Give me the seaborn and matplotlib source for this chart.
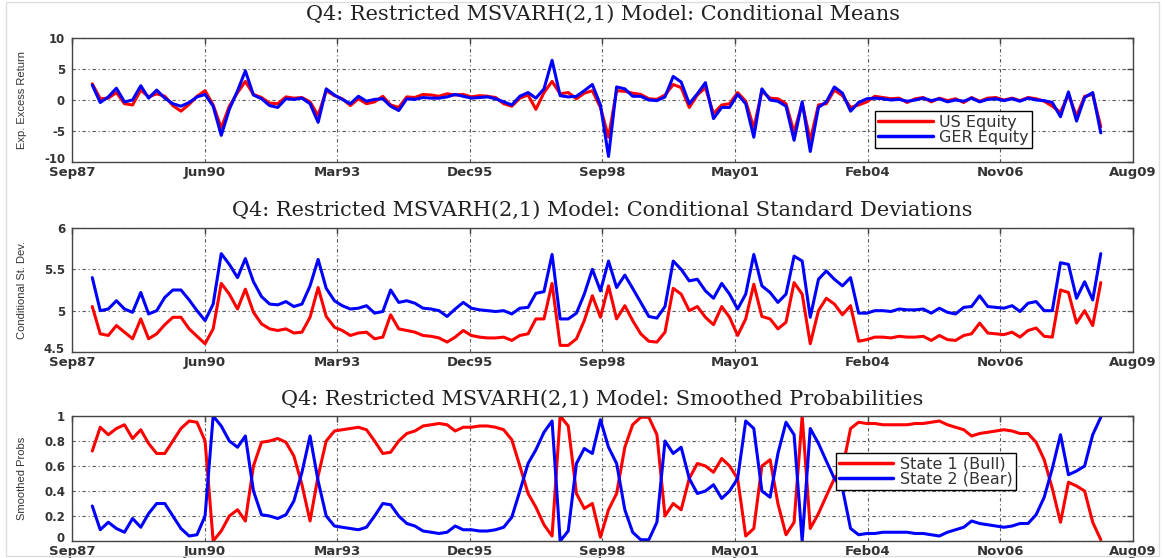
import numpy as np
import pandas as pd
import matplotlib
matplotlib.use("Agg")
import matplotlib.pyplot as plt
import matplotlib.dates as mdates
import matplotlib.transforms as mtransforms
from matplotlib.patches import Rectangle
import seaborn as sns

# ---------------- data (bi-monthly, Feb 1988 .. Dec 2008) ----------------
dates = pd.date_range("1988-02-01", periods=126, freq="2MS")

means_us = [2.6, 0.2, 0.3, 1.2, -0.6, -0.8, 1.6, 0.5, 1.0, 0.6,
            -0.9, -1.8, -0.7, 0.6, 1.5, -0.8, -4.5, -1.0, 1.2, 3.0,
            0.9, 0.4, -0.5, -0.6, 0.5, 0.3, 0.4, -0.3, -2.5, 1.5,
            0.7, 0.2, -0.9, 0.2, -0.6, -0.3, 0.6, -0.8, -1.2, 0.5,
            0.4, 0.9, 0.8, 0.6, 1.0, 0.8, 0.9, 0.5, 0.7, 0.6,
            0.4, -0.6, -1.0, 0.3, 0.8, -1.5, 1.2, 3.0, 1.0, 1.2,
            0.2, 1.1, 1.5, -1.2, -6.0, 1.5, 1.4, 1.1, 0.9, 0.2,
            0.1, 0.8, 2.5, 2.0, -1.2, 0.8, 2.0, -2.2, -0.8, -0.6,
            1.2, -0.2, -4.5, 1.4, 0.3, 0.2, -0.6, -5.2, -0.5, -6.5,
            -0.8, -0.6, 1.6, 0.7, -1.2, -0.8, -0.3, 0.6, 0.4, 0.2,
            0.3, -0.4, 0.2, 0.4, -0.3, 0.3, -0.1, 0.2, -0.4, 0.4,
            -0.2, 0.3, 0.4, 0.0, 0.3, -0.1, 0.4, 0.2, -0.2, -1.0,
            -2.0, 0.9, -2.6, 0.6, 0.9, -4.3]
means_ger = [2.4, -0.4, 0.5, 1.9, -0.3, 0.0, 2.3, 0.3, 1.6, 0.3,
             -0.6, -1.0, -0.4, 0.5, 0.9, -1.0, -5.7, -1.5, 1.5, 4.7,
             0.8, 0.2, -0.9, -1.2, 0.2, 0.1, 0.3, -0.6, -3.6, 1.8,
             0.8, 0.1, -0.6, 0.6, -0.2, 0.1, 0.2, -1.0, -1.7, 0.2,
             0.1, 0.4, 0.3, 0.3, 0.5, 0.9, 0.6, 0.3, 0.4, 0.5,
             0.2, -0.3, -0.8, 0.6, 1.2, 0.3, 1.8, 6.4, 0.7, 0.5,
             0.6, 1.5, 2.5, -0.8, -9.1, 2.1, 1.8, 0.6, 0.6, 0.0,
             -0.1, 0.5, 3.8, 2.9, -0.6, 1.0, 2.8, -3.0, -1.2, -1.2,
             0.9, -0.6, -6.0, 1.8, 0.0, -0.2, -1.0, -6.5, -0.3, -8.3,
             -1.2, -0.3, 2.1, 1.1, -1.8, -0.4, 0.2, 0.3, 0.2, 0.0,
             0.1, -0.2, 0.0, 0.3, -0.1, 0.2, -0.3, 0.0, -0.2, 0.3,
             -0.3, 0.1, 0.2, -0.1, 0.2, -0.2, 0.3, 0.0, -0.1, -0.4,
             -2.7, 1.3, -3.4, 0.4, 1.2, -5.3]

std_us = [5.05, 4.72, 4.70, 4.82, 4.74, 4.66, 4.90, 4.66, 4.72, 4.83,
          4.92, 4.92, 4.78, 4.69, 4.60, 4.78, 5.33, 5.20, 5.02, 5.26,
          4.98, 4.84, 4.78, 4.76, 4.78, 4.73, 4.74, 4.92, 5.28, 4.93,
          4.80, 4.76, 4.70, 4.73, 4.74, 4.66, 4.68, 4.95, 4.78, 4.76,
          4.74, 4.70, 4.69, 4.67, 4.62, 4.68, 4.76, 4.70, 4.68, 4.67,
          4.67, 4.68, 4.64, 4.70, 4.72, 4.90, 4.90, 5.33, 4.58, 4.58,
          4.66, 4.88, 5.18, 4.92, 5.30, 4.90, 5.06, 4.88, 4.72, 4.63,
          4.62, 4.74, 5.27, 5.20, 5.00, 5.05, 4.92, 4.83, 5.05, 4.92,
          4.70, 4.90, 5.32, 4.93, 4.90, 4.78, 4.86, 5.34, 5.20, 4.60,
          5.00, 5.15, 5.08, 4.95, 5.06, 4.63, 4.65, 4.68, 4.68, 4.67,
          4.69, 4.68, 4.68, 4.69, 4.64, 4.70, 4.65, 4.64, 4.70, 4.72,
          4.85, 4.73, 4.72, 4.71, 4.74, 4.68, 4.76, 4.79, 4.69, 4.68,
          5.25, 5.22, 4.85, 5.00, 4.82, 5.34]
std_ger = [5.40, 5.00, 5.02, 5.12, 5.02, 4.98, 5.22, 4.96, 5.00, 5.16,
           5.25, 5.25, 5.13, 5.00, 4.88, 5.08, 5.69, 5.56, 5.40, 5.63,
           5.35, 5.17, 5.08, 5.07, 5.11, 5.05, 5.08, 5.30, 5.62, 5.27,
           5.12, 5.06, 5.02, 5.03, 5.06, 4.97, 4.99, 5.25, 5.10, 5.12,
           5.09, 5.03, 5.02, 5.00, 4.93, 5.02, 5.10, 5.03, 5.01, 5.00,
           4.99, 5.00, 4.96, 5.03, 5.04, 5.21, 5.23, 5.68, 4.90, 4.90,
           4.97, 5.20, 5.50, 5.24, 5.60, 5.28, 5.43, 5.27, 5.10, 4.93,
           4.91, 5.05, 5.60, 5.50, 5.36, 5.38, 5.24, 5.15, 5.33, 5.20,
           5.02, 5.20, 5.68, 5.30, 5.22, 5.10, 5.20, 5.66, 5.60, 4.92,
           5.38, 5.48, 5.38, 5.30, 5.40, 4.97, 4.97, 5.00, 5.00, 4.99,
           5.02, 5.01, 5.01, 5.02, 4.97, 5.03, 4.98, 4.96, 5.04, 5.05,
           5.18, 5.05, 5.04, 5.03, 5.06, 4.99, 5.09, 5.11, 5.00, 5.00,
           5.58, 5.56, 5.15, 5.35, 5.13, 5.69]

prob_bull = [0.72, 0.91, 0.85, 0.90, 0.93, 0.82, 0.89, 0.78, 0.70, 0.70,
             0.80, 0.90, 0.96, 0.95, 0.80, 0.00, 0.08, 0.20, 0.25, 0.16,
             0.60, 0.79, 0.80, 0.82, 0.79, 0.68, 0.45, 0.16, 0.52, 0.80,
             0.88, 0.89, 0.90, 0.91, 0.89, 0.80, 0.70, 0.71, 0.80, 0.86,
             0.88, 0.92, 0.93, 0.94, 0.93, 0.88, 0.91, 0.91, 0.92, 0.92,
             0.91, 0.89, 0.81, 0.60, 0.38, 0.27, 0.13, 0.04, 1.00, 0.92,
             0.38, 0.26, 0.30, 0.03, 0.25, 0.38, 0.75, 0.93, 0.99, 0.99,
             0.85, 0.20, 0.30, 0.25, 0.50, 0.62, 0.60, 0.55, 0.66, 0.60,
             0.50, 0.04, 0.10, 0.60, 0.65, 0.30, 0.05, 0.15, 1.00, 0.10,
             0.22, 0.36, 0.50, 0.58, 0.90, 0.95, 0.94, 0.94, 0.93, 0.93,
             0.93, 0.93, 0.94, 0.94, 0.95, 0.96, 0.93, 0.91, 0.89, 0.84,
             0.86, 0.87, 0.88, 0.89, 0.88, 0.86, 0.86, 0.79, 0.65, 0.42,
             0.15, 0.47, 0.44, 0.40, 0.15, 0.01]
prob_bear = [0.28, 0.09, 0.15, 0.10, 0.07, 0.18, 0.11, 0.22, 0.30, 0.30,
             0.20, 0.10, 0.04, 0.05, 0.20, 1.00, 0.92, 0.80, 0.75, 0.84,
             0.40, 0.21, 0.20, 0.18, 0.21, 0.32, 0.55, 0.84, 0.48, 0.20,
             0.12, 0.11, 0.10, 0.09, 0.11, 0.20, 0.30, 0.29, 0.20, 0.14,
             0.12, 0.08, 0.07, 0.06, 0.07, 0.12, 0.09, 0.09, 0.08, 0.08,
             0.09, 0.11, 0.19, 0.40, 0.62, 0.73, 0.87, 0.96, 0.00, 0.08,
             0.62, 0.74, 0.70, 0.97, 0.75, 0.62, 0.25, 0.07, 0.01, 0.01,
             0.15, 0.80, 0.70, 0.75, 0.50, 0.38, 0.40, 0.45, 0.34, 0.40,
             0.50, 0.96, 0.90, 0.40, 0.35, 0.70, 0.95, 0.85, 0.00, 0.90,
             0.78, 0.64, 0.50, 0.42, 0.10, 0.05, 0.06, 0.06, 0.07, 0.07,
             0.07, 0.07, 0.06, 0.06, 0.05, 0.04, 0.07, 0.09, 0.11, 0.16,
             0.14, 0.13, 0.12, 0.11, 0.12, 0.14, 0.14, 0.21, 0.35, 0.58,
             0.85, 0.53, 0.56, 0.60, 0.85, 0.99]

titles = ["Q4: Restricted MSVARH(2,1) Model: Conditional Means",
          "Q4: Restricted MSVARH(2,1) Model: Conditional Standard Deviations",
          "Q4: Restricted MSVARH(2,1) Model: Smoothed Probabilities"]
ylabels = ["Exp. Excess Return", "Conditional St. Dev.", "Smoothed Probs"]
x_tick_labels = ["Sep87", "Jun90", "Mar93", "Dec95", "Sep98",
                 "May01", "Feb04", "Nov06", "Aug09"]
y_ticks = [[-10, -5, 0, 5, 10], [4.5, 5, 5.5, 6], [0, 0.2, 0.4, 0.6, 0.8, 1]]
y_tick_labels = [["-10", "-5", "0", "5", "10"], ["4.5", "5", "5.5", "6"],
                 ["0", "0.2", "0.4", "0.6", "0.8", "1"]]
series = [(means_us, means_ger, "US Equity", "GER Equity"),
          (std_us, std_ger, None, None),
          (prob_bull, prob_bear, "State 1 (Bull)", "State 2 (Bear)")]

# ---------------- styling ----------------
sns.set_style("white")
plt.rcParams["font.family"] = ["DejaVu Sans"]

W_PX, H_PX = 1165, 558
fig = plt.figure(figsize=(W_PX / 100, H_PX / 100), dpi=100)
fig.patch.set_facecolor("white")

left = 72 / W_PX
width = (1133 - 72) / W_PX
boxes = [(162, 124), (352, 124), (541, 125)]
title_pads = [13, 9, 8]

x0 = mdates.date2num(pd.Timestamp("1987-09-01"))
x1 = mdates.date2num(pd.Timestamp("2009-08-01"))
xticks = np.linspace(x0, x1, 9)

RED = "#ff0000"
BLUE = "#0000ff"
legend_anchor = [(0.757, 0.115), None, (0.72, 0.41)]

for i, (bpx, hpx) in enumerate(boxes):
    ax = fig.add_axes([left, 1 - bpx / H_PX, width, hpx / H_PX])
    s_red, s_blue, lab_r, lab_b = series[i]
    sns.lineplot(x=dates, y=s_red, color=RED, lw=2.2, ax=ax, label=lab_r,
                 legend=False)
    sns.lineplot(x=dates, y=s_blue, color=BLUE, lw=2.2, ax=ax, label=lab_b,
                 legend=False)
    ax.set_xlim(x0, x1)
    ax.set_ylim(y_ticks[i][0], y_ticks[i][-1])
    ax.set_xticks(xticks)
    ax.set_xticklabels(x_tick_labels, fontsize=9.5, fontweight="bold",
                       color="#333333")
    ax.set_yticks(y_ticks[i])
    ax.set_yticklabels(y_tick_labels[i], fontsize=8.5, fontweight="bold",
                       color="#333333")
    ax.tick_params(direction="in", length=4, width=1, top=True, right=True,
                   color="#444444")
    ax.tick_params(axis="x", pad=3)
    ax.tick_params(axis="y", pad=5)
    # lift the lowest y tick label a little so it sits just above the x labels
    lowest = ax.get_yticklabels()[0]
    lowest.set_transform(lowest.get_transform() +
                         mtransforms.ScaledTranslation(0, 3 / 72,
                                                       fig.dpi_scale_trans))
    ax.grid(True, linestyle=(0, (3, 2.5, 1, 2.5)), color="#555555", lw=0.8)
    for sp in ax.spines.values():
        sp.set_color("#444444")
        sp.set_linewidth(1.0)
    ax.set_xlabel("")
    ax.set_ylabel(ylabels[i], fontsize=8, family="Liberation Sans",
                  color="#333333")
    ax.yaxis.set_label_coords(-0.0424, 0.5)
    ax.set_title(titles[i], fontsize=15, family="DejaVu Serif",
                 color="#222222", pad=title_pads[i])
    if legend_anchor[i] is not None:
        leg = ax.legend(loc="lower left", bbox_to_anchor=legend_anchor[i],
                        borderaxespad=0, frameon=True, fancybox=False,
                        edgecolor="black", fontsize=11.5, handlelength=3.4,
                        borderpad=0.2, labelspacing=0.0, handletextpad=0.4,
                        framealpha=1)
        leg.get_frame().set_linewidth(1.0)
        for t in leg.get_texts():
            t.set_color("#333333")
        for ln in leg.get_lines():
            ln.set_linewidth(2.5)

fig.patches.append(Rectangle((6 / W_PX, 2 / H_PX), 1 - 12 / W_PX, 1 - 4 / H_PX,
                             transform=fig.transFigure, fill=False,
                             edgecolor="#dddddd", lw=1))

fig.savefig("out.png", dpi=100)
